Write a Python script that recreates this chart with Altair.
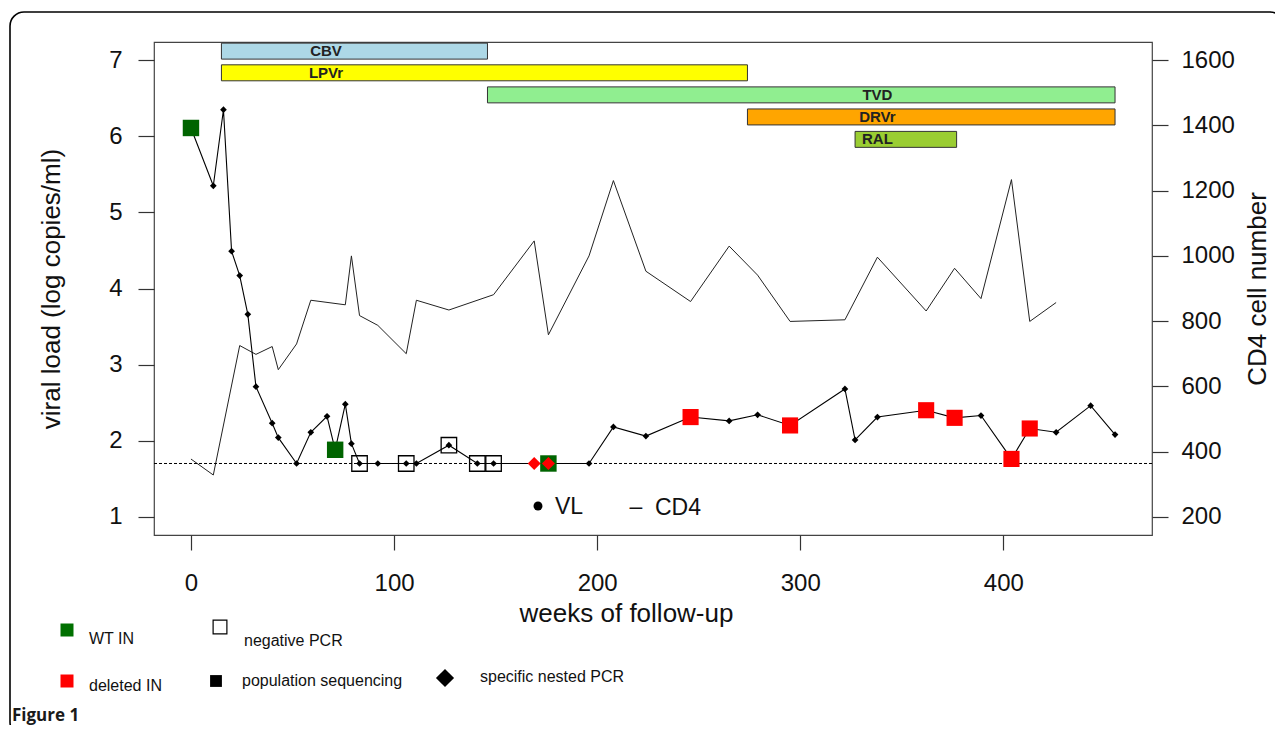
import altair as alt
import pandas as pd

# ---------------- data ----------------
weeks = [0, 11, 16, 20, 24, 28, 32, 40, 43, 52, 59, 67, 71, 76, 79, 83, 92, 106, 111, 127,
         141, 149, 169, 176, 196, 208, 224, 246, 265, 279, 295, 322, 327, 338, 362, 376, 389,
         404, 413, 426, 443, 455]
viral_load = [6.11, 5.35, 6.35, 4.49, 4.17, 3.66, 2.71, 2.23, 2.04, 1.70, 2.11, 2.32, 1.88,
              2.48, 1.96, 1.70, 1.70, 1.70, 1.70, 1.94, 1.70, 1.70, 1.70, 1.70, 1.70, 2.18,
              2.06, 2.31, 2.26, 2.34, 2.20, 2.68, 2.01, 2.31, 2.40, 2.30, 2.33, 1.76, 2.16,
              2.11, 2.46, 2.08]

cd4_weeks = [0, 11, 24, 32, 40, 43, 52, 59, 76, 79, 83, 92, 106, 111, 127, 149, 169, 176,
             196, 208, 224, 246, 265, 279, 295, 322, 338, 362, 376, 389, 404, 413, 426]
cd4_count = [377, 328, 725, 698, 722, 651, 730, 864, 850, 1000, 817, 787, 700, 864, 834, 881,
             1046, 758, 1000, 1231, 953, 860, 1030, 941, 799, 804, 996, 831, 962, 869, 1234,
             799, 857]

wt_in_weeks = [0, 71, 176]
negative_pcr_weeks = [83, 106, 127, 141, 149]
deleted_in_weeks = [246, 295, 362, 376, 404, 413]
nested_pcr_weeks = [169, 176]

detection_limit = 1.70

drugs = ["CBV", "LPVr", "TVD", "DRVr", "RAL"]
drug_start = [15, 15, 146, 274, 327]
drug_end = [146, 274, 455, 455, 377]

legend_labels = ["WT IN", "negative PCR", "deleted IN", "population sequencing",
                 "specific nested PCR"]

# ---------------- layout / style ----------------
drug_colors = ["#ADD8E6", "#FFFF00", "#90EE90", "#FFA500", "#9ACD32"]
drug_row_center = [7.12, 6.835, 6.545, 6.255, 5.96]
drug_half_height = 0.105
drug_label_week = [66.5, 66.5, 338, 338, 338]

PLOT_X0, PLOT_Y0 = 154, 42          # page position of plot area
W, H = 998, 493

vl_df = pd.DataFrame({"week": weeks, "vl": viral_load})
vl_lookup = dict(zip(weeks, viral_load))


def marker_df(ws):
    return pd.DataFrame({"week": ws, "vl": [vl_lookup[w] for w in ws]})


cd4_df = pd.DataFrame({"week": cd4_weeks, "cd4": cd4_count})
drug_df = pd.DataFrame({
    "drug": drugs,
    "start": drug_start,
    "end": drug_end,
    "lo": [c - drug_half_height for c in drug_row_center],
    "hi": [c + drug_half_height for c in drug_row_center],
    "mid": drug_row_center,
    "label_week": drug_label_week,
})

xs = alt.Scale(domain=[-18.2, 473.2], nice=False, zero=False)
ysl = alt.Scale(domain=[0.76, 7.24], nice=False, zero=False)
ysr = alt.Scale(domain=[144, 1656], nice=False, zero=False)

x_axis = alt.Axis(values=[0, 100, 200, 300, 400], title="weeks of follow-up", format="d",
                  tickSize=15, labelPadding=21, titleX=472, titleY=78,
                  titleBaseline="middle", titleAlign="center", labelFlush=False)
yl_axis = alt.Axis(values=[1, 2, 3, 4, 5, 6, 7], title="viral load (log copies/ml)",
                   format="d", tickSize=16, labelPadding=16, titleX=-103, titleY=H / 2,
                   titleAngle=270, titleBaseline="middle", titleAlign="center",
                   labelFlush=False)
yr_axis = alt.Axis(values=[200, 400, 600, 800, 1000, 1200, 1400, 1600], orient="right",
                   format="d", title="CD4 cell number", tickSize=16, labelPadding=13,
                   titleX=105, titleY=H / 2, titleAngle=270, titleBaseline="middle",
                   titleAlign="center", labelFlush=False)


def X(field):
    return alt.X(field, scale=xs, axis=x_axis)


def YL(field):
    return alt.Y(field, scale=ysl, axis=yl_axis)


one = alt.Data(values=[{}])


def pv(x, y):
    return dict(x=alt.value(x - PLOT_X0), y=alt.value(y - PLOT_Y0))


bars = alt.Chart(drug_df).mark_rect(stroke="#333", strokeWidth=1).encode(
    x=X("start:Q"), x2="end:Q", y=YL("lo:Q"), y2="hi:Q",
    color=alt.Color("drug:N", scale=alt.Scale(domain=drugs, range=drug_colors), legend=None),
)
bar_labels = alt.Chart(drug_df).mark_text(
    font="Liberation Sans", fontWeight="bold", fontSize=15, color="#222", baseline="middle"
).encode(x=X("label_week:Q"), y=YL("mid:Q"), text="drug:N")

limit = alt.Chart(pd.DataFrame({"vl": [detection_limit]})).mark_rule(
    strokeDash=[3, 2], color="black", strokeWidth=1
).encode(y=YL("vl:Q"))

vl_line = alt.Chart(vl_df).mark_line(color="black", strokeWidth=1.1).encode(
    x=X("week:Q"), y=YL("vl:Q"))
vl_pts = alt.Chart(vl_df).mark_point(shape="diamond", filled=True, size=45, color="black",
                                     opacity=1).encode(x=X("week:Q"), y=YL("vl:Q"))
neg_pts = alt.Chart(marker_df(negative_pcr_weeks)).mark_point(
    shape="square", filled=False, size=240, color="black", strokeWidth=1.3, opacity=1
).encode(x=X("week:Q"), y=YL("vl:Q"))
wt_pts = alt.Chart(marker_df(wt_in_weeks)).mark_point(
    shape="square", filled=True, size=270, color="#006400", opacity=1
).encode(x=X("week:Q"), y=YL("vl:Q"))
del_pts = alt.Chart(marker_df(deleted_in_weeks)).mark_point(
    shape="square", filled=True, size=260, color="#FF0000", opacity=1
).encode(x=X("week:Q"), y=YL("vl:Q"))
nested_pts = alt.Chart(marker_df(nested_pcr_weeks)).mark_point(
    shape="diamond", filled=True, size=170, color="#FF0000", opacity=1
).encode(x=X("week:Q"), y=YL("vl:Q"))

# ---------------- decorations (pixel positions) ----------------
deco = []
# outer figure frame with rounded corner
deco.append(alt.Chart(one).mark_rect(fill="white", fillOpacity=0, stroke="black",
                                     strokeWidth=1.6, cornerRadius=14).encode(
    x=alt.value(10 - PLOT_X0), x2=alt.value(1284 - PLOT_X0),
    y=alt.value(12 - PLOT_Y0), y2=alt.value(736 - PLOT_Y0)))


def txt(s, x, y, size, align="left", weight="normal", font="Liberation Sans", color="#111",
        baseline="middle"):
    return alt.Chart(one).mark_text(text=s, align=align, baseline=baseline, fontSize=size,
                                    fontWeight=weight, font=font, color=color).encode(**pv(x, y))


def sym(shape, x, y, size, color, filled=True, sw=1.2):
    return alt.Chart(one).mark_point(shape=shape, filled=filled, size=size, color=color,
                                     opacity=1, strokeWidth=sw).encode(**pv(x, y))


# VL / CD4 key inside the plot
deco.append(sym("circle", 538, 506, 80, "black"))
deco.append(txt("VL", 555, 507, 23))
deco.append(txt("–", 636, 507, 23, align="center"))
deco.append(txt("CD4", 655, 508, 23))

# bottom legend
deco.append(sym("square", 67, 630, 169, "#007000"))
deco.append(txt(legend_labels[0], 89, 639, 16))
deco.append(sym("square", 220, 627, 190, "black", filled=False, sw=1.2))
deco.append(txt(legend_labels[1], 244, 641, 16))
deco.append(sym("square", 67, 681, 169, "#FF0000"))
deco.append(txt(legend_labels[2], 89, 686, 16))
deco.append(sym("square", 216, 681, 140, "black"))
deco.append(txt(legend_labels[3], 242, 681, 16))
deco.append(sym("diamond", 445, 678, 330, "black"))
deco.append(txt(legend_labels[4], 480, 677, 16))
deco.append(txt("Figure 1", 12, 721, 17, weight="bold", font="Open Sans", color="#1a1a1a",
                baseline="alphabetic"))

left_group = alt.layer(bars, bar_labels, limit, vl_line, vl_pts, neg_pts, wt_pts, del_pts,
                       nested_pts, *deco)

cd4_line = alt.Chart(cd4_df).mark_line(color="#222", strokeWidth=1).encode(
    x=X("week:Q"), y=alt.Y("cd4:Q", scale=ysr, axis=yr_axis))

chart = alt.layer(cd4_line, left_group).resolve_scale(y="independent").properties(
    width=W, height=H,
    padding={"left": PLOT_X0 - 8, "top": PLOT_Y0 - 8, "right": 1267 - (PLOT_X0 - 8) - W,
             "bottom": 717 - (PLOT_Y0 - 8) - H},
    autosize=alt.AutoSizeParams(type="none"),
).configure_view(stroke="#444", strokeWidth=1.2).configure_axis(
    labelFont="Liberation Sans", titleFont="Liberation Sans", labelFontSize=24,
    titleFontSize=26, titleFontWeight="normal", labelColor="#111", titleColor="#111",
    tickColor="#333", tickWidth=1.2, domain=False, grid=False,
)

chart.save("out.html", embed_options={"renderer": "svg", "actions": False})
